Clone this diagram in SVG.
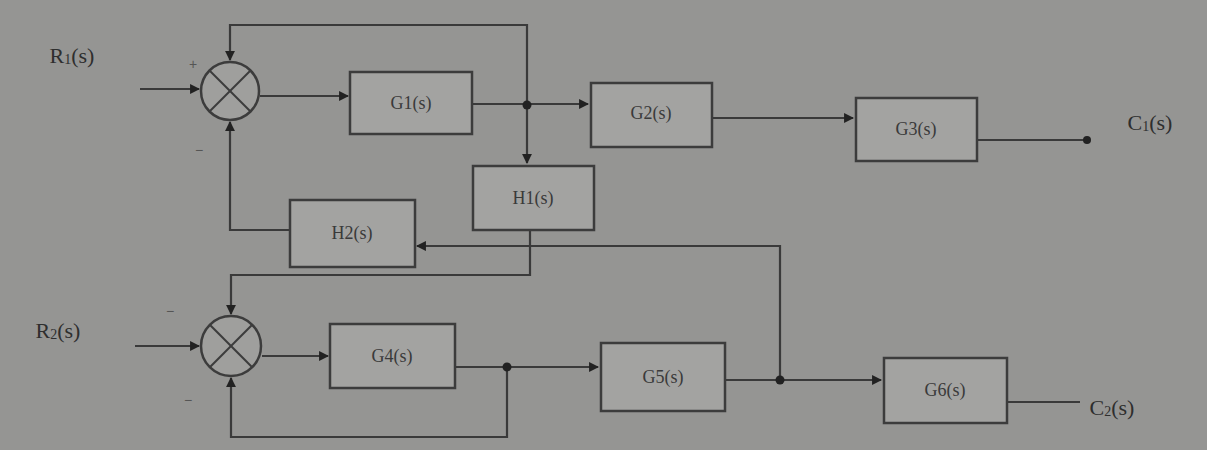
<svg xmlns="http://www.w3.org/2000/svg" width="1207" height="450" viewBox="0 0 1207 450">
<style>
.bg{fill:#959593}
.blk{fill:#a3a3a1;stroke:#3c3c3c;stroke-width:2.5}
.sum{fill:#9f9f9d;stroke:#3c3c3c;stroke-width:2.5}
.x{stroke:#3c3c3c;stroke-width:2}
.w{fill:none;stroke:#3a3a3a;stroke-width:2.2}
.lbl{font-family:"Liberation Serif",serif;font-size:18px;fill:#3a3a3a;text-anchor:middle;dominant-baseline:central}
.io{font-family:"Liberation Serif",serif;font-size:22px;fill:#2e2e2e;text-anchor:middle;dominant-baseline:central}
.sg{font-family:"Liberation Sans",sans-serif;font-size:14px;fill:#555;text-anchor:middle;dominant-baseline:central}
.dot{fill:#222}
</style>
<defs>
<marker id="ah" viewBox="0 0 10 10" refX="9" refY="5" markerWidth="4.5" markerHeight="4.5" orient="auto-start-reverse" markerUnits="strokeWidth">
<path d="M0,0 L10,5 L0,10 z" fill="#222"/>
</marker>
</defs>
<rect class="bg" x="0" y="0" width="1207" height="450"/>

<g id="connectors">
<path class="w" d="M140,89 H199" marker-end="url(#ah)"/>
<path class="w" d="M260,96 H348" marker-end="url(#ah)"/>
<path class="w" d="M472,104 H588" marker-end="url(#ah)"/>
<path class="w" d="M527,106 V25 H230 V60" marker-end="url(#ah)"/>
<path class="w" d="M527,106 V163" marker-end="url(#ah)"/>
<path class="w" d="M530,230 V275 H231 V314" marker-end="url(#ah)"/>
<path class="w" d="M290,230 H230 V122" marker-end="url(#ah)"/>
<path class="w" d="M712,118 H853" marker-end="url(#ah)"/>
<path class="w" d="M977,140 H1087"/>
<path class="w" d="M135,346 H199" marker-end="url(#ah)"/>
<path class="w" d="M262,356 H328" marker-end="url(#ah)"/>
<path class="w" d="M455,367 H598" marker-end="url(#ah)"/>
<path class="w" d="M507,367 V437 H231 V378" marker-end="url(#ah)"/>
<path class="w" d="M725,380 H881" marker-end="url(#ah)"/>
<path class="w" d="M780,380 V246 H417" marker-end="url(#ah)"/>
<path class="w" d="M1007,402 H1080"/>
<circle class="dot" cx="527" cy="105" r="4.5"/>
<circle class="dot" cx="507" cy="367" r="4.5"/>
<circle class="dot" cx="780" cy="380" r="4.5"/>
<circle class="dot" cx="1087" cy="140" r="4"/>
</g>

<g id="sum1">
<circle class="sum" cx="230" cy="91" r="29"/>
<line class="x" x1="209.5" y1="70.5" x2="250.5" y2="111.5"/>
<line class="x" x1="250.5" y1="70.5" x2="209.5" y2="111.5"/>
<text class="sg" x="193" y="64">+</text>
<text class="sg" x="199" y="150">−</text>
</g>
<g id="sum2">
<circle class="sum" cx="231" cy="346" r="30"/>
<line class="x" x1="209.8" y1="324.8" x2="252.2" y2="367.2"/>
<line class="x" x1="252.2" y1="324.8" x2="209.8" y2="367.2"/>
<text class="sg" x="170" y="311">−</text>
<text class="sg" x="188" y="400">−</text>
</g>

<g id="R1"><text class="io" x="72" y="55">R<tspan font-size="14" dy="4">1</tspan><tspan dy="-4">(s)</tspan></text></g>
<g id="R2"><text class="io" x="58" y="330">R<tspan font-size="14" dy="4">2</tspan><tspan dy="-4">(s)</tspan></text></g>
<g id="C1"><text class="io" x="1150" y="122">C<tspan font-size="14" dy="4">1</tspan><tspan dy="-4">(s)</tspan></text></g>
<g id="C2"><text class="io" x="1112" y="407">C<tspan font-size="14" dy="4">2</tspan><tspan dy="-4">(s)</tspan></text></g>

<g id="G1"><rect class="blk" x="350" y="72" width="122" height="62"/><text class="lbl" x="411" y="103">G1(s)</text></g>
<g id="G2"><rect class="blk" x="591" y="83" width="121" height="64"/><text class="lbl" x="651" y="113">G2(s)</text></g>
<g id="G3"><rect class="blk" x="856" y="98" width="121" height="63"/><text class="lbl" x="916" y="129">G3(s)</text></g>
<g id="H1"><rect class="blk" x="473" y="166" width="121" height="64"/><text class="lbl" x="533" y="198">H1(s)</text></g>
<g id="H2"><rect class="blk" x="290" y="200" width="125" height="67"/><text class="lbl" x="352" y="233">H2(s)</text></g>
<g id="G4"><rect class="blk" x="330" y="324" width="125" height="64"/><text class="lbl" x="392" y="356">G4(s)</text></g>
<g id="G5"><rect class="blk" x="601" y="343" width="124" height="68"/><text class="lbl" x="663" y="377">G5(s)</text></g>
<g id="G6"><rect class="blk" x="884" y="358" width="123" height="65"/><text class="lbl" x="945" y="390">G6(s)</text></g>
</svg>
